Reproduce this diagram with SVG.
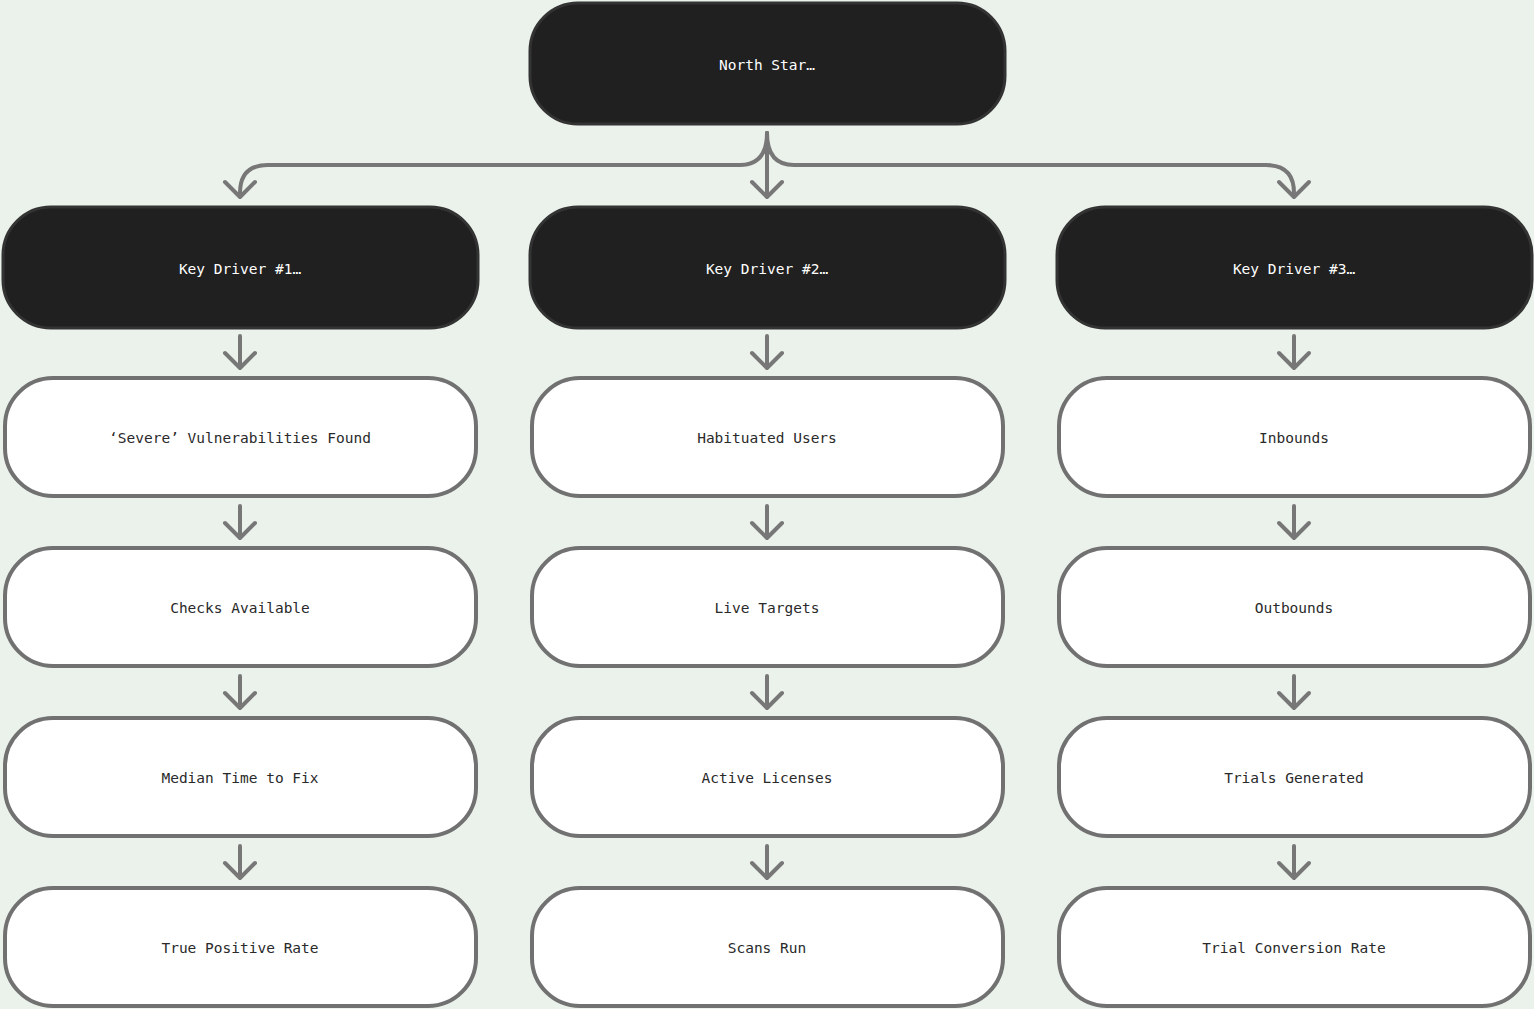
<svg xmlns="http://www.w3.org/2000/svg" width="1534" height="1009" viewBox="0 0 1534 1009">
<style>
.dark{fill:#202020;stroke:#333;stroke-width:3}
.light{fill:#fff;stroke:#717171;stroke-width:4}
.t{font-family:"DejaVu Sans Mono","Liberation Mono",monospace;font-size:14.5px;text-anchor:middle;dominant-baseline:central}
.tw{fill:#fff}.tb{fill:#2a2a2a}
.c{fill:none;stroke:#777;stroke-width:4;stroke-linecap:round;stroke-linejoin:round}
</style>
<defs>
<path id="ah" d="M-15,-14 L0,1 L15,-14" class="c"/>
</defs>
<rect width="1534" height="1009" fill="#EBF2EB"/>
<g id="connectors">
<path class="c" d="M767,133 V196"/>
<path class="c" d="M767,133 Q767,165 740,165 H268 Q240,165 240,193 V196"/>
<path class="c" d="M767,133 Q767,165 794,165 H1266 Q1294,165 1294,193 V196"/>
<use href="#ah" x="767" y="196"/><use href="#ah" x="240" y="196"/><use href="#ah" x="1294" y="196"/>
<g id="vert">
<path class="c" d="M240,336 V367 M767,336 V367 M1294,336 V367 M240,506 V537 M767,506 V537 M1294,506 V537 M240,676 V707 M767,676 V707 M1294,676 V707 M240,846 V877 M767,846 V877 M1294,846 V877"/>
</g>
<use href="#ah" x="240" y="367"/><use href="#ah" x="767" y="367"/><use href="#ah" x="1294" y="367"/>
<use href="#ah" x="240" y="537"/><use href="#ah" x="767" y="537"/><use href="#ah" x="1294" y="537"/>
<use href="#ah" x="240" y="707"/><use href="#ah" x="767" y="707"/><use href="#ah" x="1294" y="707"/>
<use href="#ah" x="240" y="877"/><use href="#ah" x="767" y="877"/><use href="#ah" x="1294" y="877"/>
</g>
<g id="north"><rect class="dark" x="530" y="3" width="475" height="121" rx="48"/><text class="t tw" x="767" y="65">North Star…</text></g>
<g id="kd1"><rect class="dark" x="3" y="207" width="475" height="121" rx="48"/><text class="t tw" x="240" y="269">Key Driver #1…</text></g>
<g id="kd2"><rect class="dark" x="530" y="207" width="475" height="121" rx="48"/><text class="t tw" x="767" y="269">Key Driver #2…</text></g>
<g id="kd3"><rect class="dark" x="1057" y="207" width="475" height="121" rx="48"/><text class="t tw" x="1294" y="269">Key Driver #3…</text></g>
<g id="n11"><rect class="light" x="5" y="378" width="471" height="118" rx="48"/><text class="t tb" x="240" y="438">‘Severe’ Vulnerabilities Found</text></g>
<g id="n12"><rect class="light" x="5" y="548" width="471" height="118" rx="48"/><text class="t tb" x="240" y="608">Checks Available</text></g>
<g id="n13"><rect class="light" x="5" y="718" width="471" height="118" rx="48"/><text class="t tb" x="240" y="778">Median Time to Fix</text></g>
<g id="n14"><rect class="light" x="5" y="888" width="471" height="118" rx="48"/><text class="t tb" x="240" y="948">True Positive Rate</text></g>
<g id="n21"><rect class="light" x="532" y="378" width="471" height="118" rx="48"/><text class="t tb" x="767" y="438">Habituated Users</text></g>
<g id="n22"><rect class="light" x="532" y="548" width="471" height="118" rx="48"/><text class="t tb" x="767" y="608">Live Targets</text></g>
<g id="n23"><rect class="light" x="532" y="718" width="471" height="118" rx="48"/><text class="t tb" x="767" y="778">Active Licenses</text></g>
<g id="n24"><rect class="light" x="532" y="888" width="471" height="118" rx="48"/><text class="t tb" x="767" y="948">Scans Run</text></g>
<g id="n31"><rect class="light" x="1059" y="378" width="471" height="118" rx="48"/><text class="t tb" x="1294" y="438">Inbounds</text></g>
<g id="n32"><rect class="light" x="1059" y="548" width="471" height="118" rx="48"/><text class="t tb" x="1294" y="608">Outbounds</text></g>
<g id="n33"><rect class="light" x="1059" y="718" width="471" height="118" rx="48"/><text class="t tb" x="1294" y="778">Trials Generated</text></g>
<g id="n34"><rect class="light" x="1059" y="888" width="471" height="118" rx="48"/><text class="t tb" x="1294" y="948">Trial Conversion Rate</text></g>
</svg>
